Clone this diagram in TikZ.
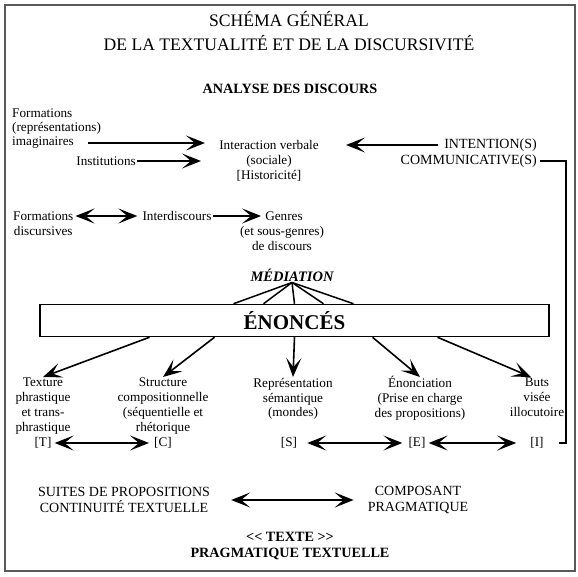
\documentclass[tikz,border=0pt]{standalone}
\usepackage{fontspec}
\setmainfont{Liberation Serif}
\usetikzlibrary{arrows.meta, positioning, calc}

\begin{document}
\begin{tikzpicture}[x=1pt, y=-1pt,
    every node/.style={font=\fontsize{13.2}{14.8}\selectfont, inner sep=1pt, align=center},
    caps/.style={font=\fontsize{14}{15.5}\selectfont},
    title/.style={font=\fontsize{17.6}{24}\selectfont},
    head/.style={font=\bfseries\fontsize{14.2}{16}\selectfont},
    arr/.style={-{Stealth[length=19pt, width=15pt, inset=9pt]}, line width=1.6pt},
    darr/.style={{Stealth[length=19pt, width=15pt, inset=9pt]}-{Stealth[length=19pt, width=15pt, inset=9pt]}, line width=1.6pt},
    link/.style={line width=1.5pt},
  ]
  \useasboundingbox (0,0) rectangle (578,577);
  \draw[line width=1.6pt, draw=black!65] (5,5) rectangle (575,571);

  % titre
  \node[title] (t1) at (289,19) {SCHÉMA GÉNÉRAL};
  \node[title] (t2) at (289,43) {DE LA TEXTUALITÉ ET DE LA DISCURSIVITÉ};
  \node[head] (ad) at (290,89) {ANALYSE DES DISCOURS};

  % niveau du discours
  \node[anchor=west, align=left] (form) at (11,121.5) {Formations\\(représentations)};
  \node[anchor=west] (imag) at (11,143) {imaginaires};
  \node[anchor=east] (inst) at (137,161) {Institutions};
  \node (inter) at (269,161) {Interaction verbale\\(sociale)\\{[Historicité]}};
  \node[caps, anchor=east] (intent) at (538,145) {INTENTION(S)};
  \node[caps, anchor=east] (comm) at (538,161) {COMMUNICATIVE(S)};

  \draw[arr] ([xshift=13pt]imag.east) -- (205,143);
  \draw[arr] (inst.east) -- (201,161);
  \draw[arr] ([xshift=-5pt]intent.west) -- (346,145);

  \node[anchor=west] (fdisc) at (12,224) {Formations\\discursives};
  \node (interd) at (177,216) {Interdiscours};
  \node (genres) at (284,216) {Genres};
  \node[anchor=north] (sousg) at (282,225) {(et sous-genres)\\de discours};

  \draw[darr] ([xshift=1pt]fdisc.east |- interd.west) -- ([xshift=-4pt]interd.west);
  \draw[arr] (interd.east) -- ([xshift=-3pt]genres.west);

  % mediation
  \node[font=\bfseries\itshape\fontsize{14.5}{16}\selectfont] (med) at (292,275) {MÉDIATION};
  \node[draw, line width=1.5pt, minimum width=509pt, minimum height=32pt,
        font=\bfseries\fontsize{21}{24}\selectfont] (enon) at (294.5,320.5) {ÉNONCÉS};
  \foreach \d in {-61,-31,0,29,59}
    \draw[link] (med.south) -- ([xshift=\d pt]enon.north);

  % composantes
  \node[anchor=north] (tex) at (43,377) {Texture\\phrastique\\et trans-\\phrastique};
  \node[anchor=north] (struc) at (163,377) {Structure\\compositionnelle\\(séquentielle et\\rhétorique};
  \node[anchor=north] (rep) at (293,377) {Représentation\\sémantique\\(mondes)};
  \node[anchor=north] (enonc) at (420,375) {Énonciation\\(Prise en charge\\des propositions)};
  \node[anchor=north] (buts) at (537,377) {Buts\\visée\\illocutoire};

  \draw[arr] ([xshift=-145pt]enon.south) -- (tex.north);
  \draw[arr] ([xshift=-80pt]enon.south) -- (struc.north);
  \draw[arr] (enon.south) -- (rep.north);
  \draw[arr] ([xshift=78pt]enon.south) -- ([yshift=-2pt]enonc.north);
  \draw[arr] ([xshift=143pt]enon.south) -- ([xshift=-6pt]buts.north);

  \node (T) at (43,443) {[T]};
  \node (C) at (163,443) {[C]};
  \node (S) at (289,443) {[S]};
  \node (E) at (417,443) {[E]};
  \node (I) at (537,443) {[I]};

  \draw[darr] ([xshift=2pt]T.east) -- ([xshift=-4pt]C.west);
  \draw[darr] ([xshift=9pt]S.east) -- ([xshift=-5pt]E.west);
  \draw[darr] ([xshift=2pt]E.east) -- ([xshift=-13pt]I.west);
  \draw[link] ([xshift=2pt]comm.east) -- ++(26,0) |- ([xshift=14pt]I.east);

  % bas
  \node[caps] (suites) at (124,500) {SUITES DE PROPOSITIONS\\CONTINUITÉ TEXTUELLE};
  \node[caps] (comp) at (418,500) {COMPOSANT\\PRAGMATIQUE};
  \draw[darr] ([xshift=20pt]suites.east) -- ([xshift=-13pt]comp.west);

  \node[head] (texte) at (290,546) {<\kern0pt< TEXTE >\kern0pt>\\PRAGMATIQUE TEXTUELLE};
\end{tikzpicture}
\end{document}
